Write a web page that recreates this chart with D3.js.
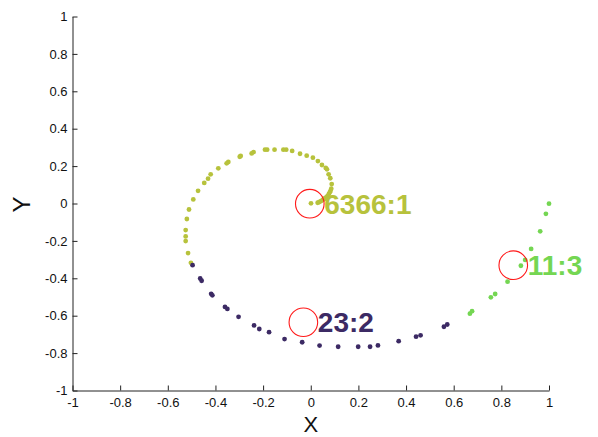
<!DOCTYPE html>
<html>
<head>
<meta charset="utf-8">
<script src="https://cdn.jsdelivr.net/npm/d3@7"></script>
<style>
  html, body { margin: 0; padding: 0; background: #fff; }
  svg { display: block; font-family: "Liberation Sans", Arial, Helvetica, sans-serif; }
</style>
</head>
<body>
<svg id="chart" width="598" height="437"></svg>
<script>
// Orbit samples for each resonance, [x, y] in data units
const orbit6366 = [
  [0.001, 0.001], [0.029, 0.004], [0.036, 0.008], [0.043, 0.013], [0.050, 0.019],
  [0.056, 0.024], [0.060, 0.028], [0.066, 0.034], [0.071, 0.041], [0.076, 0.051],
  [0.080, 0.060], [0.083, 0.068], [0.086, 0.079], [0.088, 0.104], [0.082, 0.135],
  [0.075, 0.156], [0.068, 0.183], [0.063, 0.190], [0.047, 0.206], [0.030, 0.227],
  [0.009, 0.245], [-0.017, 0.256], [-0.045, 0.266], [-0.078, 0.281], [-0.103, 0.288],
  [-0.115, 0.288], [-0.152, 0.288], [-0.183, 0.288], [-0.192, 0.288], [-0.240, 0.275],
  [-0.248, 0.268], [-0.294, 0.254], [-0.298, 0.250], [-0.346, 0.222], [-0.353, 0.215],
  [-0.388, 0.188], [-0.420, 0.156], [-0.431, 0.133], [-0.447, 0.110], [-0.473, 0.068],
  [-0.493, 0.022], [-0.511, -0.032], [-0.520, -0.083], [-0.525, -0.142], [-0.525, -0.176],
  [-0.525, -0.201], [-0.515, -0.265], [-0.503, -0.317]
];
const orbit23 = [
  [-0.496, -0.330], [-0.464, -0.401], [-0.458, -0.413], [-0.418, -0.483], [-0.413, -0.491],
  [-0.360, -0.553], [-0.350, -0.564], [-0.303, -0.606], [-0.238, -0.652], [-0.216, -0.671],
  [-0.175, -0.688], [-0.110, -0.725], [-0.036, -0.742], [0.037, -0.760], [0.115, -0.766],
  [0.199, -0.766], [0.249, -0.766], [0.282, -0.759], [0.369, -0.736], [0.442, -0.712],
  [0.461, -0.705], [0.559, -0.659], [0.573, -0.647]
];
const orbit11 = [
  [0.668, -0.589], [0.677, -0.576], [0.756, -0.502], [0.774, -0.484], [0.826, -0.418],
  [0.882, -0.333], [0.900, -0.302], [0.925, -0.243], [0.963, -0.149], [0.987, -0.055],
  [1.000, -0.001]
];

// Marked resonance centres and their labels
const markerNames = ["6366:1", "23:2", "11:3"];
const markerX = [-0.004, -0.031, 0.850];
const markerY = [-0.001, -0.635, -0.330];
const seriesColors = ["#b7c23c", "#3c2a64", "#74d652"];

const tickValues = [-1, -0.8, -0.6, -0.4, -0.2, 0, 0.2, 0.4, 0.6, 0.8, 1];
const tickLabels = ["-1", "-0.8", "-0.6", "-0.4", "-0.2", "0", "0.2", "0.4", "0.6", "0.8", "1"];

const svg = d3.select("#chart");
const x = d3.scaleLinear().domain([-1, 1]).range([72.5, 549]);
const y = d3.scaleLinear().domain([-1, 1]).range([390.5, 16.5]);
const fmt = v => tickLabels[tickValues.indexOf(v)];

// Axes with inward ticks, no box
const gx = svg.append("g").attr("transform", `translate(0,${y(-1)})`)
  .call(d3.axisBottom(x).tickValues(tickValues).tickFormat(fmt)
    .tickSizeInner(-5).tickSizeOuter(0).tickPadding(7.5));
const gy = svg.append("g").attr("transform", `translate(${x(-1)},0)`)
  .call(d3.axisLeft(y).tickValues(tickValues).tickFormat(fmt)
    .tickSizeInner(-5).tickSizeOuter(0).tickPadding(5));
[gx, gy].forEach(g => {
  g.selectAll("path, line").attr("stroke", "#222").attr("stroke-width", 1);
  g.selectAll("text").attr("fill", "#111").style("font-size", "13px")
    .style("font-family", "'Liberation Sans', Arial, sans-serif");
});

// Axis titles
svg.append("text").attr("x", x(0)).attr("y", 432).attr("text-anchor", "middle")
  .style("font-size", "22px").attr("fill", "#111").text("X");
svg.append("text").attr("transform", `translate(30,${y(0) + 1}) rotate(-90)`)
  .attr("text-anchor", "middle").style("font-size", "24px").attr("fill", "#111").text("Y");

// Orbit points
const orbits = [orbit6366, orbit23, orbit11];
orbits.forEach((pts, i) => {
  svg.append("g").selectAll("circle").data(pts).join("circle")
    .attr("cx", d => x(d[0])).attr("cy", d => y(d[1])).attr("r", 2.4)
    .attr("fill", seriesColors[i]);
});

// Resonance markers and labels
markerNames.forEach((name, i) => {
  const cx = x(markerX[i]), cy = y(markerY[i]);
  svg.append("circle").attr("cx", cx).attr("cy", cy).attr("r", 14.3)
    .attr("fill", "none").attr("stroke", "#ff1a1a").attr("stroke-width", 1.1);
  svg.append("text").attr("x", cx + 14.5).attr("y", cy + 10)
    .style("font-size", "28px").style("font-weight", "bold")
    .attr("fill", seriesColors[i]).text(name);
});
</script>
</body>
</html>
